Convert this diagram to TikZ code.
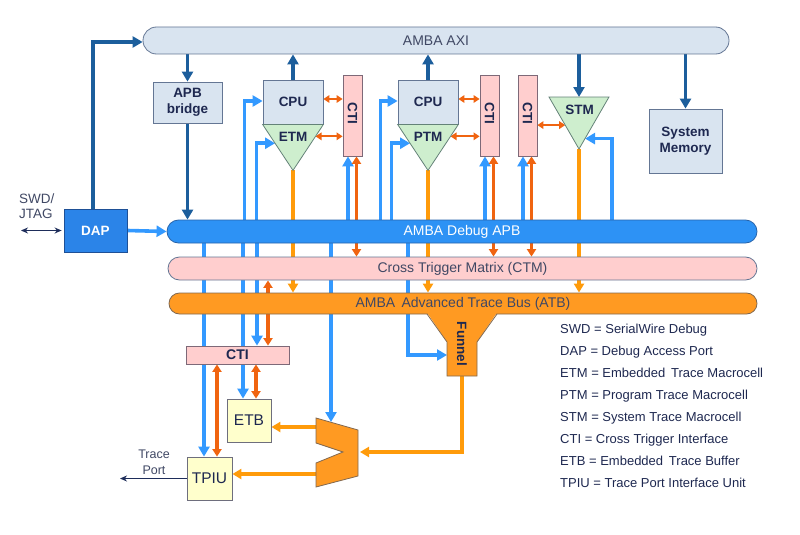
\documentclass[tikz,border=0pt]{standalone}
\usepackage{fontspec}
\setmainfont{Liberation Sans}
\usetikzlibrary{arrows.meta, calc, backgrounds}

\definecolor{axifill}{RGB}{217,228,240}
\definecolor{boxline}{RGB}{100,118,148}
\definecolor{ctifill}{RGB}{255,206,206}
\definecolor{ctiline}{RGB}{125,105,120}
\definecolor{etmfill}{RGB}{206,238,206}
\definecolor{etmline}{RGB}{100,130,120}
\definecolor{dapblue}{RGB}{43,132,232}
\definecolor{dapline}{RGB}{30,80,150}
\definecolor{apbblue}{RGB}{45,146,245}
\definecolor{apbline}{RGB}{40,100,170}
\definecolor{linkblue}{RGB}{51,153,255}
\definecolor{axidark}{RGB}{28,94,156}
\definecolor{trigorange}{RGB}{240,100,16}
\definecolor{traceorange}{RGB}{255,155,10}
\definecolor{atbfill}{RGB}{255,154,34}
\definecolor{atbline}{RGB}{130,105,80}
\definecolor{bufferfill}{RGB}{255,255,204}
\definecolor{bufline}{RGB}{110,110,125}
\definecolor{labeltext}{RGB}{30,40,80}
\definecolor{bustext}{RGB}{64,72,100}
\definecolor{navy}{RGB}{30,45,90}

\tikzset{
    bus/.style={draw=boxline, line width=0.8pt, inner sep=0pt, text=bustext, font=\fontsize{14}{16}\selectfont}, % long rounded bus bars
    block/.style={draw=boxline, line width=0.8pt, fill=axifill, inner sep=0pt, align=center, text=labeltext, font=\bfseries\fontsize{13.5}{16}\selectfont}, % plain boxes
    ctibox/.style={block, fill=ctifill, draw=ctiline}, % cross trigger interfaces
    buffer/.style={block, fill=bufferfill, draw=bufline, font=\fontsize{15.5}{18}\selectfont}, % ETB and TPIU
    macrocell/.style={fill=etmfill, draw=etmline, line width=0.8pt}, % trace macrocell triangles
    tracefill/.style={fill=atbfill, draw=atbline, line width=0.8pt}, % funnel and replicator
    lbl/.style={inner sep=0pt, text=labeltext, font=\bfseries\fontsize{13.5}{16}\selectfont},
    plain/.style={inner sep=0pt, text=bustext, font=\fontsize{13.5}{15}\selectfont},
    legend/.style={inner sep=0pt, anchor=base west, text=labeltext, font=\fontsize{13}{15}\selectfont},
}
\tikzstyle{axiarrow} = [line width=3.6pt, draw=axidark, -{Triangle[length=10pt,width=11pt]}]
\tikzstyle{dbgarrow} = [line width=3.6pt, draw=linkblue, -{Triangle[length=10pt,width=11pt]}]
\tikzstyle{trigarrow} = [line width=3.2pt, draw=trigorange, {Triangle[length=7.5pt,width=9pt]}-{Triangle[length=7.5pt,width=9pt]}]
\tikzstyle{smalltrig} = [line width=2.2pt, draw=trigorange, {Triangle[length=6pt,width=7.5pt]}-{Triangle[length=6pt,width=7.5pt]}]
\tikzstyle{tracearrow} = [line width=3.4pt, draw=traceorange, -{Triangle[length=9pt,width=10pt]}]
\tikzstyle{portarrow} = [line width=1.2pt, draw=navy, -{Stealth[length=7pt,width=6pt]}]

\begin{document}
\begin{tikzpicture}[x=1pt, y=-1pt]
    \useasboundingbox (0,0) rectangle (800,535);

    % buses
    \node[bus, fill=axifill, minimum width=586pt, minimum height=27pt, rounded corners=13.5pt] (axi) at (436,40.5) {AMBA AXI};
    \node[bus, fill=apbblue, draw=apbline, text=white, minimum width=590pt, minimum height=23pt, rounded corners=11.5pt] (apb) at (462,231.5) {AMBA Debug APB};
    \node[bus, fill=ctifill, minimum width=589pt, minimum height=23pt, rounded corners=11.5pt] (ctm) at (462.5,268.5) {Cross Trigger Matrix (CTM)};
    \node[bus, fill=atbfill, draw=atbline, minimum width=588pt, minimum height=21pt, rounded corners=10.5pt] (atb) at (463,303.5) {AMBA\, Advanced Trace Bus (ATB)};

    % blocks
    \node[block, minimum width=69pt, minimum height=41pt] (bridge) at (187.5,102.5) {APB\\bridge};
    \node[block, minimum width=60pt, minimum height=44pt] (cpuA) at (293,102) {CPU};
    \node[block, minimum width=60pt, minimum height=44pt] (cpuB) at (428,102) {CPU};
    \node[block, minimum width=73pt, minimum height=64pt] (mem) at (685.5,141) {System\\Memory};
    \node[block, fill=dapblue, draw=dapline, text=white, minimum width=63pt, minimum height=43pt] (dap) at (95.5,230.5) {DAP};
    \foreach \name/\x in {ctiA/352.5, ctiB/489.5, ctiC/527.5} {
        \node[ctibox, minimum width=19pt, minimum height=81pt] (\name) at (\x,115.5) {};
        \node[lbl, rotate=-90] (\name-text) at (\x,113.5) {CTI};
    }
    \node[ctibox, minimum width=103pt, minimum height=18pt, font=\bfseries\fontsize{14}{16}\selectfont] (ctiD) at (237.5,355) {CTI};
    \node[buffer, minimum width=44pt, minimum height=43pt] (etb) at (249,420.5) {ETB};
    \node[buffer, minimum width=45pt, minimum height=43pt] (tpiu) at (209.5,478.5) {TPIU};

    % macrocells
    \coordinate (etmtip) at ([yshift=-46pt]cpuA.south);
    \coordinate (ptmtip) at ([yshift=-46pt]cpuB.south);
    \filldraw[macrocell] (cpuA.south west) -- (cpuA.south east) -- (etmtip) -- cycle;
    \filldraw[macrocell] (cpuB.south west) -- (cpuB.south east) -- (ptmtip) -- cycle;
    \node[lbl] (etm) at ([yshift=-12pt]cpuA.south) {ETM};
    \node[lbl] (ptm) at ([yshift=-12pt]cpuB.south) {PTM};
    \coordinate (etmL) at ($(cpuA.south west)!0.41!(etmtip)$);
    \coordinate (etmR) at ($(cpuA.south east)!0.26!(etmtip)$);
    \coordinate (ptmL) at ($(cpuB.south west)!0.41!(ptmtip)$);
    \coordinate (ptmR) at ($(cpuB.south east)!0.26!(ptmtip)$);
    \coordinate (stmL) at (549,97);
    \coordinate (stmR) at (609,97);
    \coordinate (stmtip) at (579,149);
    \filldraw[macrocell] (stmL) -- (stmR) -- (stmtip) -- cycle;
    \node[lbl] (stm) at (579.5,110) {STM};
    \coordinate (stmin) at ($(stmR)!0.8!(stmtip)$);
    \coordinate (stmtrig) at ($(stmL)!0.54!(stmtip)$);

    % funnel and replicator
    \fill[atbfill] (427,312.5) -- (497,312.5) -- (477,342) -- (477,376) -- (447,376) -- (447,342) -- cycle;
    \draw[atbline, line width=0.8pt] (427,314) -- (447,342) -- (447,376) -- (477,376) -- (477,342) -- (497,314);
    \node[lbl, rotate=-90] (funnel) at (462,344) {Funnel};
    \coordinate (funnelin) at (447,355);
    \coordinate (funnelout) at (462,376);
    \filldraw[tracefill] (316,418) -- (358,430) -- (358,476) -- (316,487) -- (316,463) -- (343,452) -- (316,443) -- cycle;
    \coordinate (muxtop) at (331,422);
    \coordinate (muxin) at (358,452);
    \coordinate (muxetb) at (316,427);
    \coordinate (muxtpiu) at (316,474);

    % outside world
    \node[plain, align=left, anchor=west] (swd) at (19,206.5) {SWD/\\JTAG};
    \coordinate (swdend) at (21,230.5);
    \node[plain, align=center, font=\fontsize{12.5}{16}\selectfont] (traceport) at (154,462) {Trace\\Port};
    \coordinate (traceend) at (120,478.5);

    % legend
    \foreach \abbr/\longname [count=\i] in {SWD/SerialWire Debug, DAP/Debug Access Port, ETM/Embedded\, Trace Macrocell, PTM/Program Trace Macrocell, STM/System Trace Macrocell, CTI/Cross Trigger Interface, ETB/Embedded\, Trace Buffer, TPIU/Trace Port Interface Unit}
        \node[legend] (legend\i) at (560,311+22*\i) {\abbr{} = \longname};

    \begin{scope}[on background layer]
        % system bus
        \draw[axiarrow] ([xshift=-2.5pt]dap.north) |- ([yshift=-1.5pt]axi.west);
        \draw[axiarrow] (axi.south -| bridge.north) -- (bridge.north);
        \draw[axiarrow] (bridge.south) -- (bridge.south |- apb.north);
        \draw[axiarrow] (cpuA.north) -- (cpuA.north |- axi.south);
        \draw[axiarrow] (cpuB.north) -- (cpuB.north |- axi.south);
        \draw[axiarrow] (axi.south -| stmtip) -- (stmtip |- stmL);
        \draw[axiarrow] (axi.south -| mem.north) -- (mem.north);

        % debug APB
        \draw[dbgarrow] (dap.east) -- (apb.west);
        \draw[dbgarrow] ([xshift=-18pt]cpuA.west |- apb.north) |- ([yshift=1pt]cpuA.west);
        \draw[dbgarrow] ([xshift=-6pt]cpuA.south west |- apb.north) |- (etmL);
        \draw[dbgarrow] ([xshift=-17pt]cpuB.west |- apb.north) |- ([yshift=1pt]cpuB.west);
        \draw[dbgarrow] ([xshift=-6pt]cpuB.south west |- apb.north) |- (ptmL);
        \foreach \name in {ctiA, ctiB, ctiC}
            \draw[dbgarrow] ([xshift=-4.5pt]\name.south |- apb.north) -- ([xshift=-4.5pt]\name.south);
        \draw[dbgarrow] ([xshift=3pt]stmR |- apb.north) |- (stmin);
        \draw[dbgarrow] ([xshift=-5.5pt]tpiu.north |- apb.south) -- ([xshift=-5.5pt]tpiu.north);
        \draw[dbgarrow] ([xshift=-6pt]etb.north |- apb.south) -- ([xshift=-6pt]etb.north);
        \draw[dbgarrow] ([xshift=19.5pt]ctiD.north |- apb.south) -- ([xshift=19.5pt]ctiD.north);
        \draw[dbgarrow] (muxtop |- apb.south) -- (muxtop);
        \draw[dbgarrow] ([xshift=-39pt]funnelin |- apb.south) |- (funnelin);

        % cross triggers
        \draw[smalltrig] ([yshift=3pt]cpuA.east) -- ([yshift=3pt]cpuA.east -| ctiA.west);
        \draw[smalltrig] (etmR) -- (etmR -| ctiA.west);
        \draw[smalltrig] ([yshift=3pt]cpuB.east) -- ([yshift=3pt]cpuB.east -| ctiB.west);
        \draw[smalltrig] (ptmR) -- (ptmR -| ctiB.west);
        \draw[smalltrig] (stmtrig -| ctiC.east) -- (stmtrig);
        \foreach \name in {ctiA, ctiB, ctiC}
            \draw[trigarrow] ([xshift=4pt]\name.south) -- ([xshift=4pt]\name.south |- ctm.north);
        \draw[trigarrow] ([xshift=30.5pt]ctiD.north) -- ([xshift=30.5pt]ctiD.north |- ctm.south);
        \draw[trigarrow] ([xshift=-20.5pt]ctiD.south) -- ([xshift=-20.5pt]ctiD.south |- tpiu.north);
        \draw[trigarrow] ([xshift=18.5pt]ctiD.south) -- ([xshift=18.5pt]ctiD.south |- etb.north);

        % trace data
        \draw[tracearrow] (etmtip) -- (etmtip |- atb.north);
        \draw[tracearrow] (ptmtip) -- (ptmtip |- atb.north);
        \draw[tracearrow] (stmtip) -- (stmtip |- atb.north);
        \draw[tracearrow] (funnelout) |- ([xshift=2pt]muxin);
        \draw[tracearrow] (muxetb) -- (muxetb -| etb.east);
        \draw[tracearrow] (muxtpiu) -- (muxtpiu -| tpiu.east);

        % external ports
        \draw[portarrow, {Stealth[length=7pt,width=6pt]}-{Stealth[length=7pt,width=6pt]}, shorten >=2pt] (swdend) -- (dap.west);
        \draw[portarrow] (tpiu.west) -- (traceend);
    \end{scope}
\end{tikzpicture}
\end{document}
